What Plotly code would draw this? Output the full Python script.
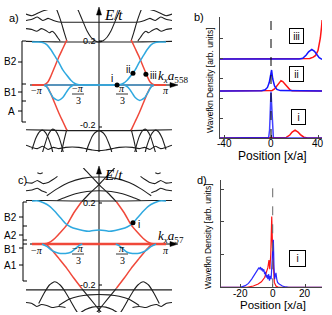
import plotly.graph_objects as go

W, H = 332, 315
def px(x): return x / W
def py(y): return 1 - y / H

SANS = "Liberation Sans"
SERIF = "Liberation Serif"
BLACK = "#1e1e1e"
RED = "#f0483a"
CYAN = "#2fa9e0"
BLUE = "#1414ff"
BRED = "#ff1414"

# ---------------- band data (k in units of pi, E in units of t) ----------------
# Band structures are symmetric in k; left halves are read, right halves mirrored.
# panel a coloured bands
A_RED_BRANCH = [(-1.0, 0.0), (-0.86, 0.0), (-0.8, 0.004), (-0.76, 0.015), (-0.72, 0.04),
                (-0.66, 0.085), (-0.6, 0.13), (-0.54, 0.17), (-0.48, 0.21)]
A_RED_FLAT = [(-1.0, 0.0), (0.0, 0.0)]
A_CYAN_FLAT = [(-0.8, 0.0), (0.0, 0.0)]
A_CYAN_UP = [(-1.0, 0.2), (-0.9, 0.2), (-0.84, 0.198), (-0.78, 0.188), (-0.72, 0.165),
             (-0.66, 0.135), (-0.6, 0.105), (-0.54, 0.07), (-0.48, 0.045), (-0.42, 0.022),
             (-0.36, 0.007), (-0.3, 0.001), (-0.25, 0.0), (0.0, 0.0)]
A_CYAN_DIP = [(-0.82, 0.0), (-0.78, -0.008), (-0.73, -0.035), (-0.68, -0.06), (-0.61, -0.072),
              (-0.54, -0.058), (-0.48, -0.03), (-0.43, -0.01), (-0.38, 0.0)]
# panel a black bands
A_T_FLAT = [(-1.09, 0.203), (-0.8, 0.201), (-0.5, 0.2), (0.0, 0.2)]
A_T_PARAB = [(-0.33, 0.36), (-0.3, 0.34), (-0.24, 0.296), (-0.18, 0.252), (-0.12, 0.222),
             (-0.06, 0.206), (0.0, 0.2)]
A_T_STEEP = [(-0.48, 0.205), (-0.52, 0.245), (-0.56, 0.288), (-0.6, 0.325), (-0.63, 0.35)]
A_T_MID = [(-1.09, 0.3), (-1.0, 0.306), (-0.92, 0.316), (-0.84, 0.3), (-0.76, 0.31),
           (-0.68, 0.3), (-0.6, 0.293), (-0.4, 0.292), (0.0, 0.292)]
A_T_WAVY = [(-1.09, 0.262), (-1.0, 0.258), (-0.93, 0.25), (-0.86, 0.262), (-0.8, 0.255),
            (-0.74, 0.243), (-0.7, 0.25), (-0.66, 0.24), (-0.62, 0.222), (-0.58, 0.205)]
A_T_EDGE = [(-1.09, 0.33), (-1.0, 0.322), (-0.9, 0.336), (-0.82, 0.346), (-0.75, 0.352)]
A_B_FLAT = [(-1.09, -0.208), (-0.8, -0.21), (-0.5, -0.212), (0.0, -0.212)]
A_B_DOME = [(-0.22, -0.35), (-0.18, -0.3), (-0.14, -0.266), (-0.1, -0.238), (-0.06, -0.222),
            (0.0, -0.212)]
A_B_STEEP = [(-0.48, -0.205), (-0.52, -0.255), (-0.56, -0.31), (-0.61, -0.35)]
A_B_SIDE1 = [(-0.86, -0.33), (-0.82, -0.29), (-0.77, -0.24), (-0.72, -0.212), (-0.69, -0.205),
             (-0.65, -0.212), (-0.6, -0.24), (-0.56, -0.28), (-0.52, -0.33)]
A_B_SIDE2 = [(-1.0, -0.3), (-0.94, -0.245), (-0.88, -0.215), (-0.84, -0.21), (-0.79, -0.225),
             (-0.74, -0.26), (-0.7, -0.3), (-0.67, -0.34)]
A_B_WAVY = [(-1.09, -0.28), (-1.0, -0.29), (-0.92, -0.296), (-0.84, -0.285), (-0.76, -0.3),
            (-0.68, -0.29), (-0.6, -0.296), (-0.5, -0.29), (-0.4, -0.288), (-0.3, -0.29),
            (-0.2, -0.296), (-0.1, -0.302), (0.0, -0.305)]
A_B_LOW = [(-1.09, -0.33), (-1.0, -0.342), (-0.9, -0.325), (-0.8, -0.336), (-0.7, -0.33),
           (-0.6, -0.336), (-0.45, -0.33), (-0.3, -0.336), (-0.15, -0.342), (0.0, -0.326)]
A_DOT_K = [0.27, 0.507, 0.70]
A_DOT_E = [0.0, 0.055, 0.05]

# panel c coloured bands
C_RED_BRANCH_UP = [(-1.0, 0.0), (-0.86, 0.0), (-0.78, 0.003), (-0.72, 0.012), (-0.657, 0.028),
                   (-0.57, 0.058), (-0.48, 0.093), (-0.38, 0.15), (-0.26, 0.206)]
C_RED_BRANCH_DN = [(-1.0, 0.0), (-0.86, 0.0), (-0.78, -0.004), (-0.7, -0.03), (-0.6, -0.07),
                   (-0.48, -0.119), (-0.38, -0.165), (-0.26, -0.216)]
C_RED_FLAT = [(-1.0, 0.0), (0.0, 0.0)]
C_CYAN_UP = [(-1.0, 0.21), (-0.9, 0.21), (-0.82, 0.2), (-0.74, 0.185), (-0.66, 0.16),
             (-0.58, 0.13), (-0.5, 0.1), (-0.42, 0.083), (-0.33, 0.073), (-0.24, 0.066),
             (-0.16, 0.062), (-0.08, 0.066), (0.0, 0.068)]
C_CYAN_DIP = [(-0.85, 0.0), (-0.78, -0.012), (-0.7, -0.032), (-0.6, -0.045), (-0.5, -0.046),
              (-0.42, -0.04), (-0.36, -0.025), (-0.3, -0.008), (-0.25, 0.0)]
# panel c black bands
C_T_FLAT = [(-1.09, 0.212), (-0.8, 0.212), (-0.4, 0.21), (0.0, 0.21)]
C_T_CROSS = [(-0.26, 0.206), (-0.13, 0.25), (0.0, 0.29), (0.13, 0.335), (0.23, 0.37), (0.3, 0.4)]
C_T_ARC1 = [(-0.62, 0.212), (-0.5, 0.228), (-0.35, 0.245), (-0.18, 0.256), (0.0, 0.26)]
C_T_ARC2 = [(-0.78, 0.235), (-0.62, 0.27), (-0.45, 0.3), (-0.25, 0.32), (0.0, 0.327)]
C_T_WAVY1 = [(-1.09, 0.3), (-1.0, 0.297), (-0.92, 0.31), (-0.84, 0.295), (-0.76, 0.3),
             (-0.68, 0.316), (-0.62, 0.33)]
C_T_WAVY2 = [(-1.09, 0.26), (-1.0, 0.263), (-0.92, 0.272), (-0.85, 0.258), (-0.78, 0.25)]
C_T_DASH = [(-0.92, 0.348), (-0.88, 0.343), (-0.84, 0.348)]
C_B_FLAT = [(-1.09, -0.224), (-0.5, -0.224), (0.0, -0.224)]
C_B_CROSS = [(-0.26, -0.216), (-0.13, -0.268), (0.0, -0.32), (0.1, -0.36)]
C_B_SIDE = [(-0.9, -0.29), (-0.82, -0.24), (-0.74, -0.2), (-0.66, -0.184), (-0.58, -0.2),
            (-0.5, -0.235), (-0.42, -0.28), (-0.35, -0.32), (-0.3, -0.345)]
C_B_ARC = [(-0.6, -0.3), (-0.45, -0.27), (-0.3, -0.255), (-0.15, -0.248), (0.0, -0.246)]
C_B_WAVY = [(-1.09, -0.285), (-1.0, -0.29), (-0.93, -0.305), (-0.86, -0.295), (-0.78, -0.3),
            (-0.7, -0.31), (-0.6, -0.305), (-0.5, -0.31)]
C_B_LOW = [(-0.3, -0.34), (-0.2, -0.32), (-0.1, -0.308), (0.0, -0.305)]
C_DOT_K = [0.507]
C_DOT_E = [0.104]

# ---------------- wavefunction densities ----------------
B_BASE = [0.0, 2.35, 3.95]          # vertical offsets of traces i, ii, iii
B1_BLUE_X = [-43.5, -3, -2, -1.2, -0.6, 0, 0.6, 1.2, 2, 3, 43.5]
B1_BLUE_Y = [0, 0, 0.02, 0.4, 1.6, 2.32, 1.6, 0.4, 0.02, 0, 0]
B1_RED_X = [-43.5, 10, 13, 16, 18, 20.5, 23, 25, 28, 31, 43.5]
B1_RED_Y = [0, 0, 0.03, 0.15, 0.3, 0.39, 0.3, 0.17, 0.04, 0, 0]
B2_BLUE_X = [-43.5, -8, -5, -3, -1.5, -0.5, 0.5, 1.5, 3, 5, 8, 43.5]
B2_BLUE_Y = [0, 0.01, 0.06, 0.18, 0.42, 0.8, 1.05, 0.6, 0.25, 0.08, 0.02, 0]
B2_RED_X = [-43.5, -1, 1, 3, 5, 7, 8.5, 10, 12, 14, 16, 18, 43.5]
B2_RED_Y = [0, 0, 0.03, 0.1, 0.25, 0.44, 0.52, 0.47, 0.33, 0.17, 0.07, 0.01, 0]
B3_BLUE_X = [-43.5, 24, 27, 30, 32, 34.7, 37, 39, 41, 43.5]
B3_BLUE_Y = [0, 0, 0.04, 0.2, 0.36, 0.48, 0.38, 0.2, 0.07, -0.02]
B3_RED_X = [-43.5, 30, 33, 36, 38, 40, 41, 42, 43, 43.5]
B3_RED_Y = [0, 0, 0.03, 0.09, 0.18, 0.42, 0.7, 1.05, 1.6, 1.95]
B_TICKS = [-40, 0, 40]

D_RED_X = [-32, -16, -12, -9, -7, -5, -4, -3, -2.3, -1.8, -1.2, -0.6, -0.1, 0.4, 1, 2, 3.5, 30.5]
D_RED_Y = [0, 0, 0.04, 0.1, 0.17, 0.3, 0.45, 0.6, 0.83, 0.55, 1.0, 2.16, 1.2, 0.4, 0.15, 0.04, 0, 0]
D_BLUE_X = [-32, -20, -17, -15, -13, -11, -10, -9, -8.5, -8, -7.5, -7, -6.5, -6, -5.5, -5, -4.5,
            -4, -3.5, -3, -2.5, -2, -1.5, -1, -0.5, 0, 0.4, 0.8, 1.2, 1.6, 2, 2.5, 3, 4, 6, 8,
            10, 30.5]
D_BLUE_Y = [0, 0, 0.05, 0.12, 0.25, 0.4, 0.48, 0.55, 0.6, 0.55, 0.62, 0.52, 0.58, 0.48, 0.55,
            0.4, 0.47, 0.3, 0.38, 0.25, 0.4, 0.2, 0.35, 0.25, 0.6, 1.1, 1.45, 0.6, 0.25, 0.35,
            0.44, 0.25, 0.15, 0.1, 0.04, 0.01, 0, 0]
D_TICKS = [-20, 0, 20]

# ---------------- helpers ----------------
def full(half):
    return half + [(-k, e) for k, e in reversed(half[:-1])]

def flip(pts):
    return [(-k, e) for k, e in pts]

def neg(pts):
    return [(k, -e) for k, e in pts]

fig = go.Figure()

def band(pts, color, width, xa, ya, smooth=True):
    fig.add_trace(go.Scatter(
        x=[p[0] for p in pts], y=[p[1] for p in pts], mode="lines",
        line=dict(color=color, width=width, shape="spline" if smooth else "linear", smoothing=0.5),
        xaxis=xa, yaxis=ya, hoverinfo="skip", showlegend=False))

def xy(xs, ys, color, width, xa, ya, base=0.0, opacity=1.0):
    fig.add_trace(go.Scatter(
        x=xs, y=[v + base for v in ys], mode="lines", opacity=opacity,
        line=dict(color=color, width=width), xaxis=xa, yaxis=ya,
        hoverinfo="skip", showlegend=False))

# ---- panel a
BW = 1.1
for pts in [full(A_T_FLAT), full(A_T_PARAB), full(A_T_MID), full(A_B_FLAT), full(A_B_DOME),
            full(A_B_WAVY), full(A_B_LOW)]:
    band(pts, BLACK, BW, "x", "y")
for pts in [A_T_STEEP, A_T_WAVY, A_T_EDGE, A_B_STEEP, A_B_SIDE1, A_B_SIDE2]:
    band(pts, BLACK, BW, "x", "y")
    band(flip(pts), BLACK, BW, "x", "y")
band(full(A_RED_FLAT), RED, 1.6, "x", "y", smooth=False)
for pts in [A_RED_BRANCH, neg(A_RED_BRANCH), flip(A_RED_BRANCH), neg(flip(A_RED_BRANCH))]:
    band(pts, RED, 1.5, "x", "y")
band(full(A_CYAN_FLAT), CYAN, 1.6, "x", "y", smooth=False)
band(full(A_CYAN_UP), CYAN, 1.5, "x", "y")
band(A_CYAN_DIP, CYAN, 1.5, "x", "y")
band(flip(A_CYAN_DIP), CYAN, 1.5, "x", "y")
fig.add_trace(go.Scatter(x=A_DOT_K, y=A_DOT_E, mode="markers", marker=dict(color="black", size=5),
                         xaxis="x", yaxis="y", hoverinfo="skip", showlegend=False))

# ---- panel c
for pts in [full(C_T_FLAT), full(C_T_ARC1), full(C_T_ARC2), full(C_B_FLAT), full(C_B_ARC),
            full(C_B_LOW)]:
    band(pts, BLACK, BW, "x3", "y3")
for pts in [C_T_CROSS, C_T_WAVY1, C_T_WAVY2, C_T_DASH, C_B_CROSS, C_B_SIDE, C_B_WAVY]:
    band(pts, BLACK, BW, "x3", "y3")
    band(flip(pts), BLACK, BW, "x3", "y3")
band(full(C_RED_FLAT), RED, 2.4, "x3", "y3", smooth=False)
for pts in [C_RED_BRANCH_UP, C_RED_BRANCH_DN, flip(C_RED_BRANCH_UP), flip(C_RED_BRANCH_DN)]:
    band(pts, RED, 1.5, "x3", "y3")
band(full(C_CYAN_UP), CYAN, 1.5, "x3", "y3")
band(C_CYAN_DIP, CYAN, 1.5, "x3", "y3")
band(flip(C_CYAN_DIP), CYAN, 1.5, "x3", "y3")
fig.add_trace(go.Scatter(x=C_DOT_K, y=C_DOT_E, mode="markers", marker=dict(color="black", size=5),
                         xaxis="x3", yaxis="y3", hoverinfo="skip", showlegend=False))

# ---- panel b
LW = 1.5
xy(B1_RED_X, B1_RED_Y, BRED, LW, "x2", "y2", B_BASE[0])
xy(B1_BLUE_X, B1_BLUE_Y, BLUE, LW, "x2", "y2", B_BASE[0], opacity=0.8)
xy(B2_RED_X, B2_RED_Y, BRED, LW, "x2", "y2", B_BASE[1])
xy(B2_BLUE_X, B2_BLUE_Y, BLUE, LW, "x2", "y2", B_BASE[1])
xy(B3_RED_X, B3_RED_Y, BRED, LW, "x2", "y2", B_BASE[2])
xy(B3_BLUE_X, B3_BLUE_Y, BLUE, LW, "x2", "y2", B_BASE[2])

# ---- panel d
xy(D_RED_X, D_RED_Y, BRED, 1.2, "x4", "y4")
xy(D_BLUE_X, D_BLUE_Y, BLUE, 1.2, "x4", "y4", opacity=0.9)

# ---------------- shapes ----------------
shapes = []
def seg(x0, y0, x1, y1, color="black", width=1, dash=None, layer="above"):
    d = dict(type="line", xref="paper", yref="paper", x0=px(x0), y0=py(y0), x1=px(x1), y1=py(y1),
             line=dict(color=color, width=width), layer=layer)
    if dash:
        d["line"]["dash"] = dash
    shapes.append(d)

def tri(points):
    path = "M " + " L ".join(f"{px(x):.5f},{py(y):.5f}" for x, y in points) + " Z"
    shapes.append(dict(type="path", xref="paper", yref="paper", path=path,
                       fillcolor="black", line=dict(color="black", width=0.5)))

# axes of band plots (with arrow heads)
seg(30, 85, 172, 85, layer="below")
seg(99, 152, 99, 14, layer="below")
tri([(99, 7), (96.5, 15), (101.5, 15)])
tri([(178, 85), (170, 82.5), (170, 87.5)])
seg(30, 244, 172, 244, layer="below")
seg(99, 313, 99, 173, layer="below")
tri([(99, 166), (96.5, 174), (101.5, 174)])
tri([(178, 244), (170, 241.5), (170, 246.5)])
for y in (41, 127):
    seg(99, y, 102, y)
for y in (203, 285):
    seg(99, y, 102, y)
# fraction bars
for yb in (94, 254):
    seg(72, yb, 84, yb, width=0.8)
    seg(116, yb, 128, yb, width=0.8)
# brackets a
seg(22, 41, 22, 122)
for y in (41, 84, 101, 122):
    seg(22, y, 26, y)
for y in (62, 92, 111):
    seg(18, y, 22, y)
# brackets c
seg(23, 202, 23, 281)
for y in (202, 226, 240, 244, 281):
    seg(23, y, 27, y)
for y in (217, 235, 248, 265):
    seg(19, y, 23, y)
# dashed zero lines in b and d
shapes.append(dict(type="line", xref="x2", yref="y2 domain", x0=0, x1=0, y0=0, y1=1,
                   line=dict(color="black", width=1, dash="dash")))
shapes.append(dict(type="line", xref="x4", yref="y4 domain", x0=0, x1=0, y0=0, y1=1,
                   line=dict(color="#666", width=1, dash="dash")))

# ---------------- annotations ----------------
ann = []
def txt(x, y, s, size=10, family=SANS, xanchor="center", angle=0, xref="paper", **kw):
    d = dict(x=px(x) if xref == "paper" else x, y=py(y), xref=xref, yref="paper", text=s,
             showarrow=False, font=dict(family=family, size=size, color="black"),
             xanchor=xanchor, yanchor="middle", textangle=angle)
    d.update(kw)
    ann.append(d)

# panel a
txt(14, 18, "a)", 11)
txt(113, 15, "<i>E</i>/<i>t</i>", 15, SERIF)
txt(98, 41, "0.2", 9, xanchor="right")
txt(98, 125, "-0.2", 9, xanchor="right")
txt(37, 91, "−<i>π</i>", 10, SERIF)
txt(78, 88, "−<i>π</i>", 10, SERIF)
txt(78, 100, "3", 10, SERIF)
txt(122, 88, "<i>π</i>", 10, SERIF)
txt(122, 100, "3", 10, SERIF)
txt(166, 91, "<i>π</i>", 10, SERIF)
txt(156, 76, "<i>k<sub>x</sub>a</i><sub>558</sub>", 13, SERIF, xanchor="left")
txt(112, 78, "i", 10)
txt(128, 69, "ii", 10)
txt(153, 75, "iii", 10)
txt(19, 62, "B2", 10, xanchor="right")
txt(19, 92, "B1", 10, xanchor="right")
txt(17, 111, "A", 10, xanchor="right")

# panel c
txt(22, 180, "c)", 11)
txt(113, 175, "<i>E</i>/<i>t</i>", 15, SERIF)
txt(98, 203, "0.2", 9, xanchor="right")
txt(98, 285, "-0.2", 9, xanchor="right")
txt(37, 250, "−<i>π</i>", 10, SERIF)
txt(78, 248, "−<i>π</i>", 10, SERIF)
txt(78, 260, "3", 10, SERIF)
txt(122, 248, "<i>π</i>", 10, SERIF)
txt(122, 260, "3", 10, SERIF)
txt(166, 250, "<i>π</i>", 10, SERIF)
txt(156, 236, "<i>k<sub>x</sub>a</i><sub>57</sub>", 13, SERIF, xanchor="left")
txt(139, 224, "i", 10)
txt(19, 217, "B2", 10, xanchor="right")
txt(19, 235, "A2", 10, xanchor="right")
txt(19, 249, "B1", 10, xanchor="right")
txt(19, 265, "A1", 10, xanchor="right")

# panel b
txt(199, 17, "b)", 11)
txt(210, 80, "Wavefkn Density [arb. units]", 8.5, angle=-90)
txt(272, 156, "Position [x/a]", 12)
for v in B_TICKS:
    txt(v, 144, str(v), 10, xref="x2")
def box(x, y, s, w=13, h=14):
    ann.append(dict(x=px(x), y=py(y), xref="paper", yref="paper", text=s, showarrow=False,
                    font=dict(family=SANS, size=10, color="black"), bordercolor="black",
                    borderwidth=1, bgcolor="white", width=w, height=h, borderpad=0,
                    xanchor="center", yanchor="middle"))
box(296, 36, "iii")
box(296, 74, "ii")
box(298, 117, "i")

# panel d
txt(202, 180, "d)", 11)
txt(208, 236, "Wavefkn Density [arb. units]", 8.5, angle=-90)
txt(273, 305, "Position [x/a]", 11.5)
for v in D_TICKS:
    txt(v, 293, str(v), 10, xref="x4")
box(297, 258, "i", w=15, h=15)

common_plot = dict(showgrid=False, zeroline=False, showline=True, linecolor="#444", linewidth=1,
                   ticks="inside", ticklen=3, tickcolor="#444", tickwidth=1,
                   showticklabels=False)

fig.update_layout(
    width=W, height=H, margin=dict(l=0, r=0, t=0, b=0),
    paper_bgcolor="white", plot_bgcolor="rgba(0,0,0,0)", showlegend=False,
    xaxis=dict(domain=[px(26), px(172)], range=[-1.0896, 1.0896], visible=False, anchor="y"),
    yaxis=dict(domain=[py(152), py(10)], range=[-0.3116, 0.3488], visible=False, anchor="x"),
    xaxis3=dict(domain=[px(26), px(172)], range=[-1.0896, 1.0896], visible=False, anchor="y3"),
    yaxis3=dict(domain=[py(312), py(168)], range=[-0.3317, 0.3707], visible=False, anchor="x3"),
    xaxis2=dict(domain=[px(220), px(322)], range=[-43.4, 43.4], anchor="y2",
                tickvals=B_TICKS, **common_plot),
    yaxis2=dict(domain=[py(138), py(17)], range=[0, 6.05], anchor="x2",
                tickvals=[0, 1, 2, 3, 4, 5, 6], **common_plot),
    xaxis4=dict(domain=[px(221), px(322)], range=[-32, 30.5], anchor="y4",
                tickvals=D_TICKS, **common_plot),
    yaxis4=dict(domain=[py(287.3), py(180)], range=[0, 3.28], anchor="x4",
                tickvals=[0, 1, 2, 3], **common_plot),
    shapes=shapes, annotations=ann,
)

fig.write_html("out.html", config={"displayModeBar": False},
               post_script="document.body.style.margin='0px';document.body.style.overflow='hidden';")
